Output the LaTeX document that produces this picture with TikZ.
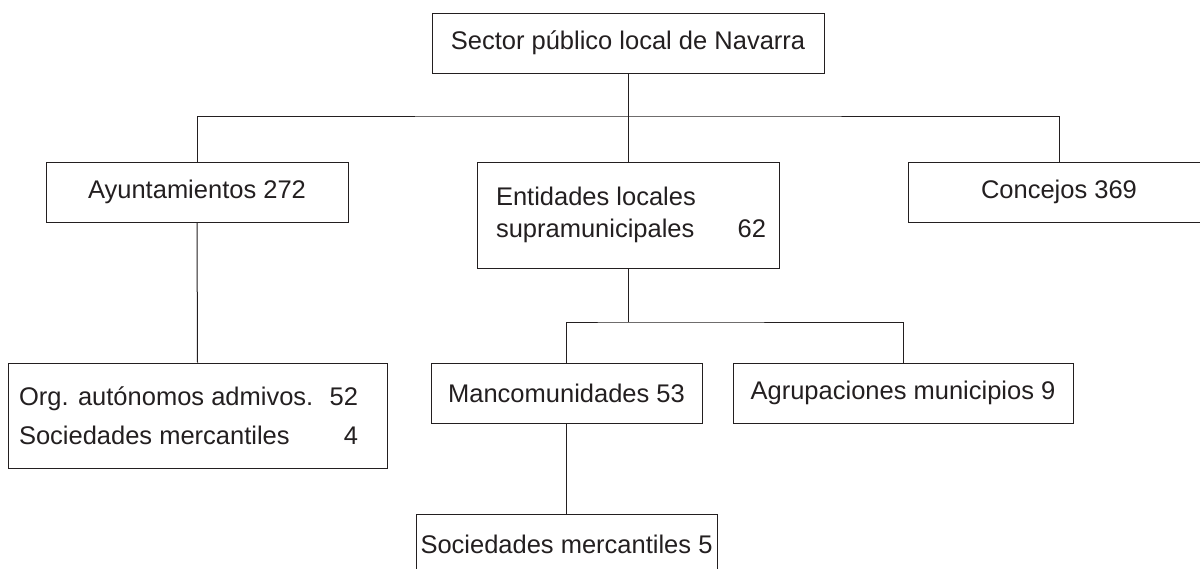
\documentclass[tikz,border=0pt]{standalone}
\usepackage{fontspec}
\setmainfont{Liberation Sans}
\usepackage{xcolor}
\definecolor{ink}{HTML}{231F20}
\newcommand{\lrow}[3]{\makebox[#1][l]{#2\hfill#3}}

\begin{document}
\begin{tikzpicture}[x=0.5pt, y=-0.5pt, color=ink, line width=0.5pt,
      every node/.append style={font=\fontsize{12.75}{16}\selectfont, inner sep=0pt}]
    \tikzstyle{box} = [draw, rectangle, minimum height=30pt, align=left, text=ink]
    \useasboundingbox[fill=white] (0,0) rectangle (1200,568);
    % top level
    \node (sector) [box, minimum width=196pt] at (628,43) {Sector público local de Navarra};
    \node (ayunt) [box, minimum width=151pt] at (197,192) {Ayuntamientos 272};
    \node (entidades) [box, minimum width=151pt, minimum height=53pt] at (628,215)
      {\lrow{138pt}{\hspace{3pt}Entidades locales}{}\\\lrow{138pt}{\hspace{3pt}supramunicipales}{62}};
    \node (concejos) [box, minimum width=151pt] at (1059,192) {Concejos 369};
    % lower levels
    \node (org) [box, minimum width=189.5pt, minimum height=52.5pt] at (197.5,415.5)
      {\lrow{178.5pt}{Org. autónomos admivos.}{52\hspace{9pt}}\\[3.5pt]\lrow{178.5pt}{Sociedades mercantiles}{4\hspace{9pt}}};
    \node (mancom) [box, minimum width=135.5pt] at (566.5,393) {Mancomunidades 53};
    \node (agrup) [box, minimum width=170pt] at (903,393) {Agrupaciones municipios 9};
    \node (soc) [box, minimum width=150.5pt] at (566.5,544) {Sociedades mercantiles 5};
    % connectors
    \coordinate (topbus) at (628,116);
    \coordinate (midbus) at (628,322);
    \draw (sector.south) -- (topbus);
    \draw (ayunt.north) |- (topbus) -| (concejos.north);
    \draw (topbus) -- (entidades.north);
    \draw (ayunt.south) -- (org.north);
    \draw (entidades.south) -- (midbus);
    \draw (mancom.north) |- (midbus) -| (agrup.north);
    \draw (mancom.south) -- (soc.north);
\end{tikzpicture}
\end{document}
